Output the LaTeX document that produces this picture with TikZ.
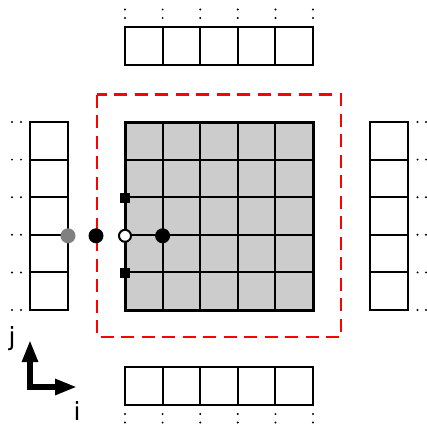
\documentclass[tikz,border=0pt]{standalone}
\usepackage{fontspec}
\setmainfont{DejaVu Sans}
\usetikzlibrary{arrows.meta}
\definecolor{cellgray}{HTML}{CCCCCC}
\definecolor{halored}{HTML}{FF0000}
\definecolor{ghost}{HTML}{808080}
\tikzset{
  thingrid/.style={line width=2pt, black},
  ellipsis/.style={circle, fill=black, inner sep=0pt, minimum size=2.2pt},
  dotnode/.style={circle, inner sep=0pt, minimum size=15pt},
  sqnode/.style={rectangle, fill=black, inner sep=0pt, minimum size=10pt},
  axisarrow/.style={line width=6pt, -{Triangle[length=22pt,width=15pt]}},
}
\begin{document}
\begin{tikzpicture}[x=1pt, y=-1pt]
\useasboundingbox (0,0) rectangle (427,425);
\def\cs{37.6}
% interior block (shaded)
\fill[cellgray] (125,122) rectangle (313,310);
\foreach \k in {1,...,4} {
  \draw[thingrid] ({125+\k*\cs},122) -- ({125+\k*\cs},310);
  \draw[thingrid] (125,{122+\k*\cs}) -- (313,{122+\k*\cs});
}
\draw[line width=3pt] (125,122) rectangle (313,310);

% top strip
\draw[thingrid] (125,27) rectangle (313,65);
\foreach \k in {1,...,4} \draw[thingrid] ({125+\k*\cs},27) -- ({125+\k*\cs},65);
\foreach \k in {0,...,5} {
  \node[ellipsis] at ({125+\k*\cs},9.5) {};
  \node[ellipsis] at ({125+\k*\cs},18) {};
}
% bottom strip
\draw[thingrid] (125,367) rectangle (313,405);
\foreach \k in {1,...,4} \draw[thingrid] ({125+\k*\cs},367) -- ({125+\k*\cs},405);
\foreach \k in {0,...,5} {
  \node[ellipsis] at ({125+\k*\cs},414) {};
  \node[ellipsis] at ({125+\k*\cs},422.5) {};
}
% left strip
\draw[thingrid] (30,122) rectangle (68,310);
\foreach \k in {1,...,4} \draw[thingrid] (30,{122+\k*\cs}) -- (68,{122+\k*\cs});
\foreach \k in {0,...,5} {
  \node[ellipsis] at (12,{122+\k*\cs}) {};
  \node[ellipsis] at (21,{122+\k*\cs}) {};
}
% right strip
\draw[thingrid] (370,122) rectangle (408,310);
\foreach \k in {1,...,4} \draw[thingrid] (370,{122+\k*\cs}) -- (408,{122+\k*\cs});
\foreach \k in {0,...,5} {
  \node[ellipsis] at (417.5,{122+\k*\cs}) {};
  \node[ellipsis] at (426,{122+\k*\cs}) {};
}

% halo boundary
\draw[halored, line width=2.4pt, dash pattern=on 13pt off 7.5pt] (97,94.5) rectangle (341,337);

% stencil points
\node[dotnode, fill=ghost] (ghostpt) at (68,235.8) {};
\node[dotnode, fill=black] (halopt) at (96,235.8) {};
\node[dotnode, minimum size=12pt, fill=white, draw=black, line width=2pt] (facept) at (125,235.8) {};
\node[dotnode, fill=black] (innerpt) at (162.6,235.8) {};
\node[sqnode] (upper) at (125,197.9) {};
\node[sqnode] (lower) at (125,273.4) {};

% axes
\coordinate (origin) at (30,387);
\coordinate (jtip) at (30,340);
\coordinate (itip) at (77,387);
\draw[axisarrow] ([yshift=3pt]origin) -- (jtip);
\draw[axisarrow] ([xshift=-3pt]origin) -- (itip);
\node[font=\fontsize{25}{25}\selectfont, inner sep=0pt] (jlab) at (12,339) {j};
\node[font=\fontsize{25}{25}\selectfont, inner sep=0pt] (ilab) at (77,411) {i};
\end{tikzpicture}
\end{document}
